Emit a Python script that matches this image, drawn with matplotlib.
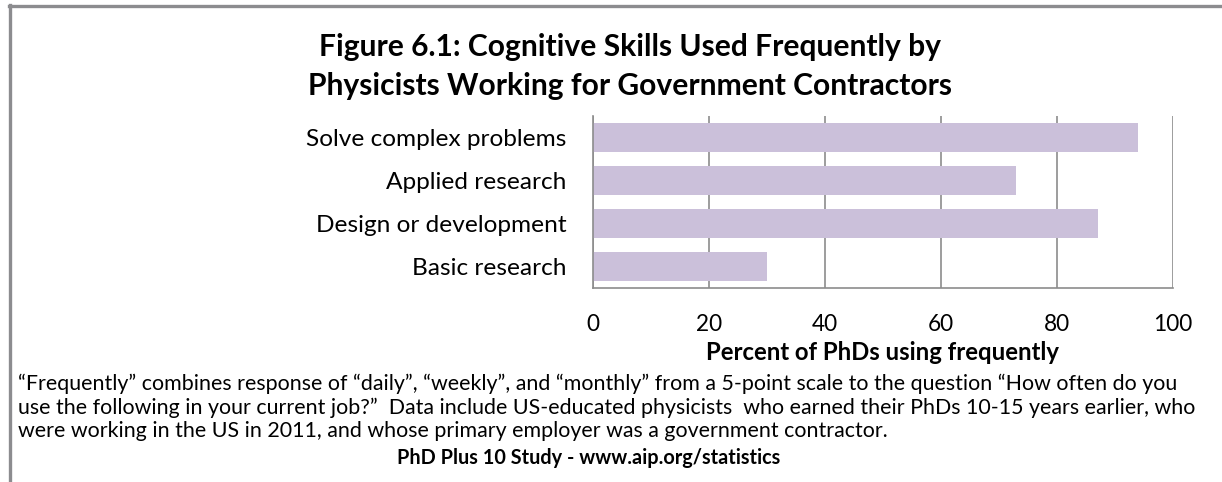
import matplotlib
matplotlib.use("Agg")
import matplotlib.pyplot as plt
from matplotlib.lines import Line2D

categories = ["Solve complex problems", "Applied research", "Design or development", "Basic research"]
values = [94, 73, 87, 30]
xticks = [0, 20, 40, 60, 80, 100]

W, H = 1222, 482
fig = plt.figure(figsize=(W/100, H/100), dpi=100)
plt.rcParams['font.family'] = ['Lato', 'DejaVu Sans']

def fx(x): return x / W
def fy(y): return 1 - y / H

# frame lines
fig.add_artist(Line2D([fx(10), fx(10)], [fy(5), 0], color='#8c8c8f', lw=2.4, transform=fig.transFigure))
fig.add_artist(Line2D([fx(9), 1], [fy(6), fy(6)], color='#8c8c8f', lw=2.4, transform=fig.transFigure))

ax = fig.add_axes([fx(593), fy(288), fx(1173) - fx(593), (288 - 116) / H])
ypos = list(range(len(categories)))[::-1]
ax.barh(ypos, values, height=0.67, color='#CBC0DA', zorder=2)
ax.set_xlim(0, 100)
ax.set_ylim(-0.5, len(categories) - 0.5)
ax.set_xticks(xticks)
ax.set_xticklabels([str(t) for t in xticks], fontsize=16.3)
ax.set_yticks(ypos)
ax.set_yticklabels(categories, fontsize=17.6)
ax.tick_params(axis='x', length=0, pad=19)
ax.tick_params(axis='y', length=0, pad=19)
ax.xaxis.grid(True, color='#8c8c8c', lw=1.2, zorder=1)
for s in ['top', 'right']:
    ax.spines[s].set_visible(False)
ax.spines['left'].set_color('#8c8c8c')
ax.spines['bottom'].set_color('#8c8c8c')
ax.spines['left'].set_linewidth(1.2)
ax.spines['bottom'].set_linewidth(1.2)
ax.set_xlabel("Percent of PhDs using frequently", fontsize=17.2, fontweight='bold', labelpad=4)

fig.text(fx(630), fy(47), "Figure 6.1: Cognitive Skills Used Frequently by", ha='center', va='center',
         fontsize=21.6, fontweight='bold')
fig.text(fx(630), fy(86), "Physicists Working for Government Contractors", ha='center', va='center',
         fontsize=21.6, fontweight='bold')

notes = [
    "\u201cFrequently\u201d combines response of \u201cdaily\u201d, \u201cweekly\u201d, and \u201cmonthly\u201d from a 5-point scale to the question \u201cHow often do you",
    "use the following in your current job?\u201d  Data include US-educated physicists  who earned their PhDs 10-15 years earlier, who",
    "were working in the US in 2011, and whose primary employer was a government contractor.",
]
for i, n in enumerate(notes):
    fig.text(fx(18), fy(384 + 23.5 * i), n, ha='left', va='center', fontsize=15.4)
fig.text(fx(589), fy(458), "PhD Plus 10 Study - www.aip.org/statistics", ha='center', va='center',
         fontsize=14.3, fontweight='bold')

fig.savefig("out.png", dpi=100)
